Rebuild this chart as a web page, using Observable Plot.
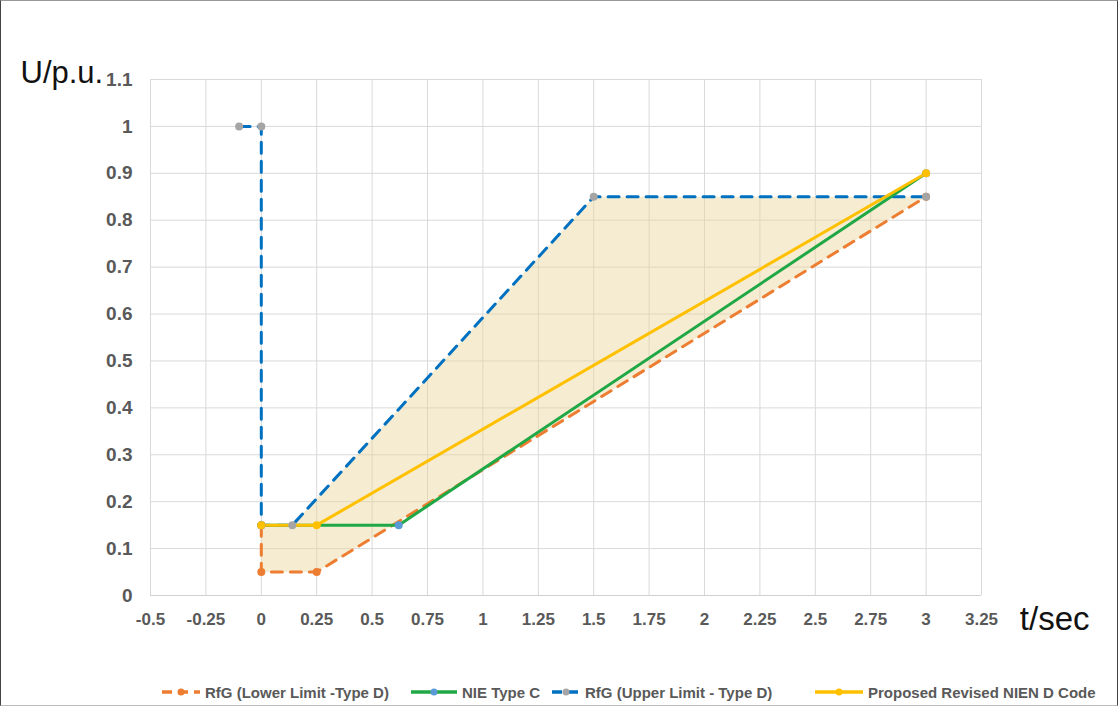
<!DOCTYPE html>
<html><head><meta charset="utf-8">
<script src="https://cdn.jsdelivr.net/npm/d3@7"></script>
<script src="https://cdn.jsdelivr.net/npm/@observablehq/plot@0.6"></script>
<style>
body{margin:0;background:#fff;font-family:"Liberation Sans",Arial,sans-serif;}
#wrap{position:relative;width:1116px;height:704px;border:1px solid #444;border-top-color:#999;border-bottom-color:#bbb;overflow:hidden;}
#legend{position:absolute;left:0;top:681px;width:1116px;height:20px;font-size:15px;font-weight:bold;color:#595959;}
#legend .it{position:absolute;top:0;display:flex;align-items:center;white-space:nowrap;height:20px;}
#legend svg{position:absolute;top:4px;}
</style></head><body>
<div id="wrap"><div id="chart"></div><div id="legend"></div></div>
<script>
// Series data (t in seconds, U in p.u.)
const lowerT = [0, 0, 0.25, 3];
const lowerU = [0.15, 0.05, 0.05, 0.85];
const nieT = [0, 0.62, 3];
const nieU = [0.15, 0.15, 0.9];
const upperT = [-0.1, 0, 0, 0.14, 1.5, 3];
const upperU = [1, 1, 0.15, 0.15, 0.85, 0.85];
const propT = [0, 0.25, 3];
const propU = [0.15, 0.15, 0.9];
const xTicks = [-0.5,-0.25,0,0.25,0.5,0.75,1,1.25,1.5,1.75,2,2.25,2.5,2.75,3,3.25];
const yTicks = [0,0.1,0.2,0.3,0.4,0.5,0.6,0.7,0.8,0.9,1,1.1];
const seriesNames = ["RfG (Lower Limit -Type D)","NIE Type C","RfG (Upper Limit - Type D)","Proposed Revised NIEN D Code"];

const zip = (ts, us) => ts.map((t,i)=>({t, u: us[i]}));
const lower = zip(lowerT, lowerU);
const nie = zip(nieT, nieU);
const upper = zip(upperT, upperU);
const prop = zip(propT, propU);
// shaded band: upper limit (from t=0 at 0.15) then lower limit reversed
const band = [...upper.slice(2), ...lower.slice(1).reverse()];

const cOr="#ED7D31", cGr="#1FA845", cBl="#0070C0", cYe="#FFC000", cGy="#A5A5A5", cBm="#5B9BD5";

const plot = Plot.plot({
  width:1116, height:670,
  marginLeft:149, marginRight:136, marginTop:78, marginBottom:76,
  x:{domain:[-0.5,3.25], ticks:xTicks, tickFormat:d=>String(d), label:null},
  y:{domain:[0,1.1], ticks:yTicks, tickFormat:d=>String(+d.toFixed(1)), label:null},
  style:{fontFamily:"Liberation Sans, Arial, sans-serif"},
  marks:[
    Plot.gridX(xTicks,{stroke:"#d9d9d9", strokeOpacity:1}),
    Plot.gridY(yTicks,{stroke:"#d9d9d9", strokeOpacity:1}),
    Plot.ruleY([0],{stroke:"#d0d0d0", strokeWidth:1}),
    Plot.axisX(xTicks,{tickSize:0, tickPadding:17, fontSize:17, fontWeight:"bold", fill:"#595959", tickFormat:d=>String(d)}),
    Plot.axisY(yTicks,{tickSize:0, tickPadding:18, fontSize:19, fontWeight:"bold", fill:"#595959", tickFormat:d=>String(+d.toFixed(1))}),
    Plot.line(band,{x:"t", y:"u", fill:"#e8d49a", fillOpacity:0.45, stroke:"none", curve:"linear"}),
    Plot.line(lower,{x:"t", y:"u", stroke:cOr, strokeWidth:3, strokeDasharray:"11,8"}),
    Plot.line(upper,{x:"t", y:"u", stroke:cBl, strokeWidth:3, strokeDasharray:"11,8"}),
    Plot.line(nie,{x:"t", y:"u", stroke:cGr, strokeWidth:3}),
    Plot.line(prop,{x:"t", y:"u", stroke:cYe, strokeWidth:3}),
    Plot.dot(lower,{x:"t", y:"u", r:4, fill:cOr}),
    Plot.dot(upper,{x:"t", y:"u", r:4, fill:cGy}),
    Plot.dot(nie,{x:"t", y:"u", r:4, fill:cBm}),
    Plot.dot(prop,{x:"t", y:"u", r:4, fill:cYe}),
    Plot.text(["U/p.u."],{frameAnchor:"top-left", dx:-130, dy:-19, fontSize:31, fill:"#111", textAnchor:"start"}),
    Plot.text(["t/sec"],{frameAnchor:"bottom-right", dx:108, dy:34, fontSize:33, fill:"#111", textAnchor:"end"})
  ]
});
plot.style.overflow="visible";
document.getElementById("chart").appendChild(plot);

const leg = document.getElementById("legend");
const styles = [
  {c:cOr, m:cOr, dash:true, x:204, w:40},
  {c:cGr, m:cBm, dash:false, x:461, w:48},
  {c:cBl, m:cGy, dash:true, x:584, w:30},
  {c:cYe, m:cYe, dash:false, x:867, w:50}
];
seriesNames.forEach((n,i)=>{
  const s = styles[i];
  const it = document.createElement("div"); it.className="it"; it.style.left = s.x+"px";
  const w = s.w;
  it.innerHTML = `<svg width="${w}" height="12" style="left:-${w+4}px"><line x1="1" y1="6" x2="${w-1}" y2="6" stroke="${s.c}" stroke-width="3.5" ${s.dash?'stroke-dasharray="10,6"':''}/><circle cx="${w/2}" cy="6" r="3.5" fill="${s.m}"/></svg><span>${n}</span>`;
  leg.appendChild(it);
});
</script></body></html>
